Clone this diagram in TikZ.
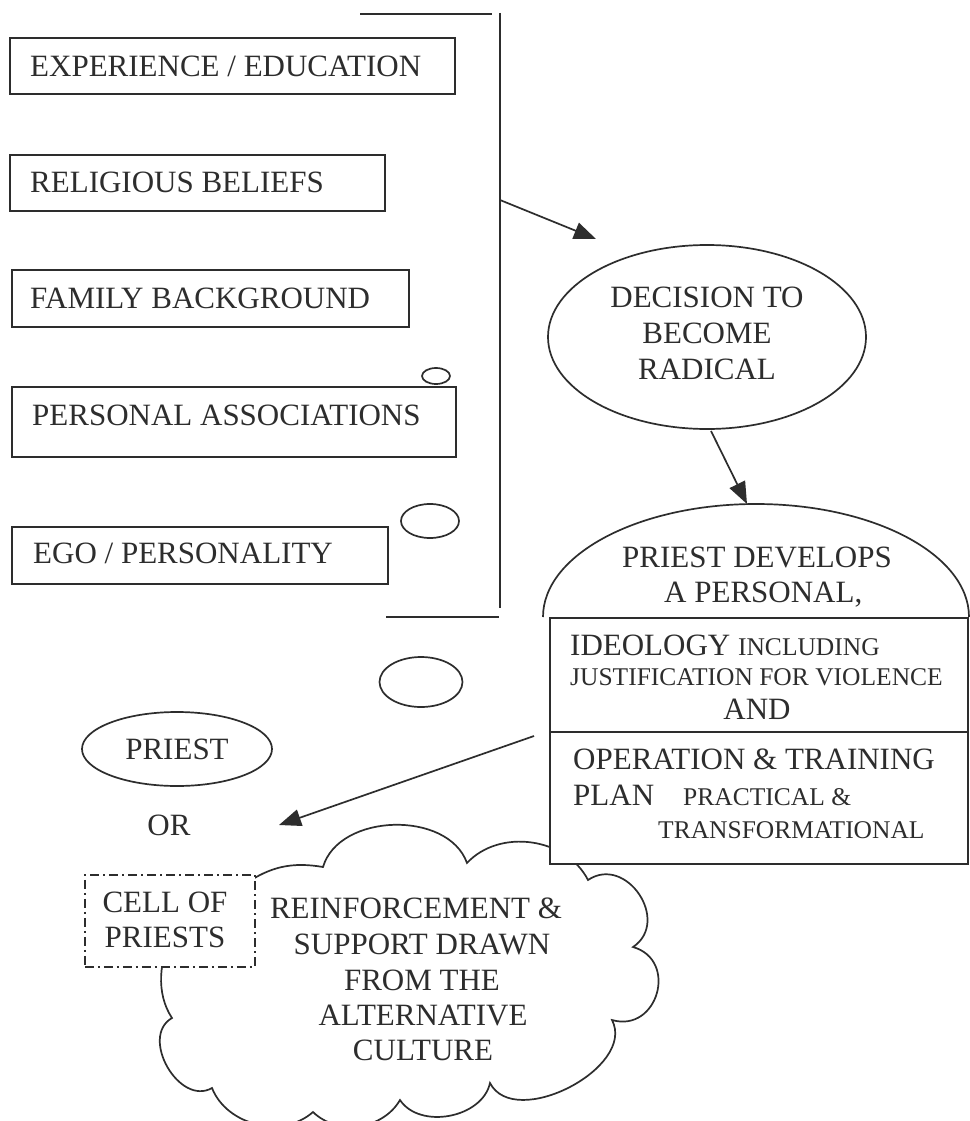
\documentclass[tikz,border=0pt]{standalone}
\usepackage{fontspec}
\setmainfont{Liberation Serif}
\usetikzlibrary{arrows.meta,shapes.geometric}
\definecolor{ink}{RGB}{45,45,45}
\newcommand\smtxt{\fontsize{25.5}{30}\selectfont}
\begin{document}
\begin{tikzpicture}[x=1pt,y=-1pt,
  ln/.style={draw=ink,line width=1.7pt},
  lbox/.style={ln,fill=white,inner sep=0pt,anchor=north west},
  oval/.style={ln,ellipse,inner sep=0pt},
  big/.style={text=ink,font=\fontsize{31}{36}\selectfont,inner sep=0pt},
  small/.style={text=ink,font=\smtxt,inner sep=0pt},
  arr/.style={ln,-{Triangle[length=22pt,width=17pt]}},
  dashdot/.style={draw=ink,line width=1.7pt,dash pattern=on 9pt off 4pt on 2pt off 4pt}
]
\path[use as bounding box] (0,0) rectangle (969,1121);
\fill[white] (0,0) rectangle (969,1121);

% cloud (drawn first, partly hidden)
\draw[ln] (245,884) to[bend left=22] (323,867) to[bend left=72] (467,863)
  to[bend left=55] (588,880) to[bend left=90,looseness=1.46] (633,947)
  to[bend left=90,looseness=1.6] (612,1020) to[bend left=90] (490,1083)
  to[bend left=67] (400,1100) to[bend left=52] (313,1112)
  to[bend left=55] (212,1088) to[bend left=90,looseness=1.2] (172,1018)
  to[bend left=62] (245,884);

% left boxes
\node[lbox,minimum width=445,minimum height=56] (b1) at (9,37) {};
\node[lbox,minimum width=375,minimum height=56] (b2) at (9,154) {};
\node[lbox,minimum width=397,minimum height=57] (b3) at (11,269) {};
\node[lbox,minimum width=444,minimum height=70] (b4) at (11,386) {};
\node[lbox,minimum width=376,minimum height=57] (b5) at (11,526) {};
\node[big,anchor=base west] (t1) at (30,77) {EXPERIENCE / EDUCATION};
\node[big,anchor=base west] (t2) at (30,192) {RELIGIOUS BELIEFS};
\node[big,anchor=base west] (t3) at (30,308) {FAMILY BACKGROUND};
\node[big,anchor=base west] (t4) at (32,425) {PERSONAL ASSOCIATIONS};
\node[big,anchor=base west] (t5) at (33,563) {EGO / PERSONALITY};

% small ovals
\node[oval,minimum width=28,minimum height=16] (e1) at (436,376) {};
\node[oval,minimum width=58,minimum height=34] (e2) at (430,521) {};
\node[oval,minimum width=83,minimum height=50] (e3) at (421,682) {};

% bracket
\coordinate (bt1) at (360,14);
\coordinate (bt2) at (492,14);
\coordinate (vb1) at (500,13);
\coordinate (vb2) at (500,608);
\coordinate (bb1) at (386,617);
\coordinate (bb2) at (499,617);
\draw[ln] (bt1) -- (bt2);
\draw[ln] (vb1) -- (vb2);
\draw[ln] (bb1) -- (bb2);

% decision
\node[oval,minimum width=318,minimum height=184] (dec) at (707,337) {};
\node[big,anchor=base] (d1) at (707,307) {DECISION TO};
\node[big,anchor=base] (d2) at (707,343) {BECOME};
\node[big,anchor=base] (d3) at (707,379) {RADICAL};

% priest develops shape
\draw[ln,fill=white] (543,617) arc[start angle=180,end angle=360,x radius=213,y radius=113];
\node[lbox,minimum width=418,minimum height=246] (plan) at (549,617) {};
\coordinate (dv1) at (549,732);
\coordinate (dv2) at (967,732);
\draw[ln] (dv1) -- (dv2);
\node[big,anchor=base] (p1) at (757,567) {PRIEST DEVELOPS};
\node[big,anchor=base west] (p2) at (664,602) {A PERSONAL,};
\node[big,anchor=base west] (p3) at (570,655) {IDEOLOGY {\smtxt INCLUDING}};
\node[small,anchor=base west] (p4) at (570,685) {JUSTIFICATION FOR VIOLENCE};
\node[big,anchor=base] (p5) at (757,719) {AND};
\node[big,anchor=base west] (p6) at (573,769) {OPERATION \& TRAINING};
\node[big,anchor=base west] (p7) at (573,805) {PLAN};
\node[small,anchor=base west] (p8) at (683,805) {PRACTICAL \&};
\node[small,anchor=base west] (p9) at (658,838) {TRANSFORMATIONAL};

% priest / or / cell
\node[oval,minimum width=190,minimum height=74] (priest) at (177,749) {};
\node[big,anchor=base] (pt) at (177,759) {PRIEST};
\node[big,anchor=base] (or) at (169,835) {OR};
\node[dashdot,fill=white,inner sep=0pt,anchor=north west,minimum width=170,minimum height=92] (cell) at (84,874) {};
\node[big,anchor=base] (c1) at (165,912) {CELL OF};
\node[big,anchor=base] (c2) at (165,947) {PRIESTS};

% cloud text
\node[big,anchor=base] (r1) at (416,918) {REINFORCEMENT \&};
\node[big,anchor=base] (r2) at (422,954) {SUPPORT DRAWN};
\node[big,anchor=base] (r3) at (422,990) {FROM THE};
\node[big,anchor=base] (r4) at (423,1025) {ALTERNATIVE};
\node[big,anchor=base] (r5) at (423,1060) {CULTURE};

% arrows
\coordinate (a1s) at (500,200);
\coordinate (a1e) at (596,239);
\coordinate (a2s) at (711,431);
\coordinate (a2e) at (747,504);
\coordinate (a3s) at (534,736);
\coordinate (a3e) at (279,825);
\draw[arr] (a1s) -- (a1e);
\draw[arr] (a2s) -- (a2e);
\draw[arr] (a3s) -- (a3e);
\end{tikzpicture}
\end{document}
